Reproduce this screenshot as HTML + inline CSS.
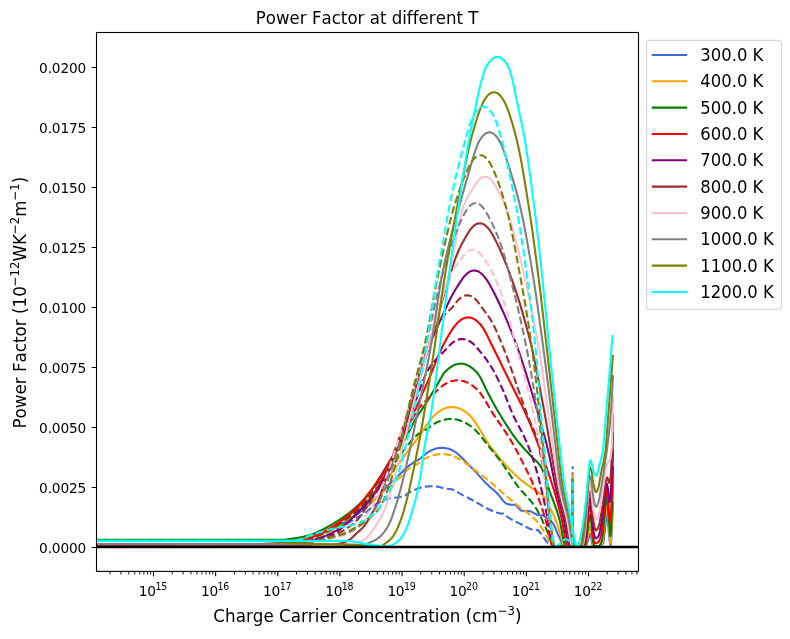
<!DOCTYPE html>
<html><head><meta charset="utf-8"><title>Power Factor at different T</title>
<style>html,body{margin:0;padding:0;background:#fff}svg{display:block}text{font-family:"DejaVu Sans", "Liberation Sans", sans-serif;fill:#000;font-variant-ligatures:none;font-feature-settings:"liga" 0,"clig" 0;font-kerning:none}</style></head><body>
<svg width="790" height="639" viewBox="0 0 790 639">
<rect width="790" height="639" fill="#fff"/>
<defs><clipPath id="ax"><rect x="96.50" y="32.50" width="542.00" height="538.90"/></clipPath></defs>
<g clip-path="url(#ax)" fill="none" stroke-width="2.08" stroke-linejoin="round">
<path d="M96.50 545.50L271.48 545.47L273.70 545.33L276.67 545.00L279.63 544.53L282.59 543.98L292.22 542.07L295.93 541.26L301.11 540.00L306.30 538.58L312.96 536.58L318.89 534.52L325.56 531.91L331.50 529.32L336.75 526.68L342.00 523.76L348.00 520.18L353.25 516.78L358.50 513.10L363.00 509.70L367.50 505.99L372.00 502.00L374.91 499.19L390.50 483.29L395.75 478.06L404.72 469.54L406.96 467.53L409.21 465.66L411.44 463.96L412.93 462.96L418.13 459.80L420.36 458.33L421.85 457.22L425.58 453.98L427.82 452.41L430.06 451.05L431.55 450.30L433.04 449.64L435.28 448.80L436.03 448.59L437.52 448.29L440.51 447.87L442.00 447.80L444.24 447.95L447.23 448.43L447.97 448.58L449.46 449.03L451.70 449.95L453.88 451.07L456.03 452.51L458.17 454.25L460.32 456.21L462.47 458.33L463.90 459.80L465.30 461.50L467.46 463.82L473.94 470.12L476.10 472.30L478.24 474.62L483.95 481.10L486.80 484.10L488.96 486.11L494.72 491.01L496.88 493.06L498.28 494.56L498.95 495.39L502.32 499.74L504.28 501.92L504.92 502.58L505.56 503.13L506.20 503.50L506.92 503.78L509.07 504.40L510.50 504.60L514.80 504.80L515.44 505.03L516.08 505.52L516.72 506.17L518.66 508.18L519.98 509.71L520.64 510.30L521.30 510.60L523.40 510.86L529.17 511.15L529.90 511.20L530.58 511.34L531.27 511.63L534.00 513.20L536.25 514.32L537.75 514.93L539.22 515.19L542.08 515.40L542.80 515.50L543.44 515.71L544.08 516.07L546.00 517.50L549.61 520.02L551.06 521.26L552.50 522.80L553.21 523.80L553.92 525.07L555.35 528.17L558.20 535.00L560.42 539.49L561.16 541.27L561.90 543.50L562.25 545.50L562.60 546.90L576.07 546.79L581.31 546.62L585.80 546.40L586.33 545.60L589.35 535.57L589.80 534.50L590.05 534.16L590.30 534.00L590.65 534.65L591.00 536.00L592.00 543.00L592.75 545.43L593.50 546.50L600.50 546.50L601.12 546.23L601.75 545.49L602.38 544.38L603.00 543.00L603.67 540.07L605.00 530.00L606.20 516.38L606.80 513.00L607.50 516.50L609.65 540.72L610.40 546.00L611.05 541.82L611.70 533.00L612.10 524.90L613.00 503.00" stroke="#4169e1" stroke-linecap="square"/>
<path d="M96.50 546.00L280.00 546.00L282.25 545.93L284.50 545.74L287.50 545.33L290.50 544.82L296.50 543.72L301.00 542.67L306.25 541.18L312.22 539.24L315.93 537.81L320.37 535.91L335.19 529.13L340.37 526.70L345.56 524.14L350.75 521.38L359.00 516.40L364.60 513.25L366.00 512.31L367.40 511.21L371.60 507.52L373.70 505.87L376.62 504.00L379.59 502.23L381.81 501.03L384.04 500.01L386.26 499.21L389.25 498.50L392.25 498.02L399.00 497.17L401.25 496.76L403.50 496.20L404.20 495.95L405.60 495.19L409.10 492.68L410.50 491.82L414.00 490.10L416.80 488.94L421.00 487.59L423.80 486.93L428.00 486.40L430.10 486.24L431.50 486.20L434.30 486.33L438.50 486.82L439.90 487.12L443.40 488.25L444.80 488.60L446.25 488.76L449.25 488.93L450.73 489.10L452.19 489.46L453.66 490.00L455.12 490.67L456.58 491.45L463.17 495.32L469.82 498.73L475.00 501.50L477.87 503.14L484.32 507.00L486.47 508.18L488.64 509.25L493.05 511.23L495.26 512.06L497.27 512.70L499.17 513.19L500.44 513.37L503.00 513.60L503.67 513.83L504.33 514.24L507.00 516.50L509.74 518.34L511.80 519.60L515.55 521.62L523.80 525.60L528.27 527.98L529.76 528.70L531.25 529.28L534.22 530.04L535.70 530.20L537.80 530.00L538.53 530.45L542.90 536.40L546.54 541.59L548.00 543.50L549.25 545.28L549.88 546.01L550.50 546.30L563.16 546.26L572.10 546.10L572.40 516.41L572.70 466.20" stroke="#4169e1" stroke-dasharray="7.71 3.33" stroke-linecap="butt"/>
<path d="M96.50 545.00L270.00 545.00L271.50 544.96L273.75 544.74L276.75 544.22L279.75 543.52L285.75 541.91L288.75 541.16L300.48 538.81L304.14 538.02L307.07 537.31L310.00 536.50L312.22 535.79L314.44 534.97L317.41 533.74L321.11 532.03L330.75 527.11L333.75 525.47L336.75 523.74L342.75 519.99L345.75 517.99L348.75 515.87L351.75 513.63L354.75 511.29L358.50 508.25L362.25 505.09L365.25 502.45L368.25 499.68L372.73 495.25L376.36 491.23L385.00 481.12L388.57 476.78L391.45 473.15L398.73 463.52L408.20 450.60L417.00 439.20L420.00 434.94L427.50 423.67L429.75 420.58L432.00 417.82L434.12 415.60L436.19 413.73L438.94 411.61L441.00 410.25L442.38 409.50L443.75 408.84L445.81 408.00L447.19 407.62L449.94 407.15L452.00 407.00L454.06 407.15L457.50 407.79L459.56 408.53L462.31 409.86L464.38 411.13L467.12 413.16L468.50 414.31L469.88 415.58L471.25 417.00L472.75 418.76L474.25 420.74L475.75 422.91L478.75 427.68L486.25 440.34L488.50 443.85L490.00 446.00L493.57 450.75L497.14 455.22L501.48 460.30L506.64 466.12L510.33 470.08L514.01 473.79L516.96 476.55L519.91 479.08L524.34 482.56L529.50 486.32L536.15 491.01L540.65 493.83L542.15 495.00L542.90 495.70L543.61 496.48L544.32 497.40L545.74 499.60L547.87 503.50L550.70 509.10L552.10 512.04L553.50 515.18L554.90 518.55L556.30 522.13L557.71 526.04L559.14 530.54L562.00 540.00L563.47 545.63L564.20 546.90L575.84 546.80L580.93 546.63L585.30 546.40L585.87 545.25L589.10 530.07L589.60 528.00L589.90 527.01L590.20 526.50L590.60 527.29L591.00 529.00L592.20 541.00L592.80 543.63L593.40 545.56L594.00 546.30L600.00 546.30L600.65 545.88L601.30 544.73L601.95 543.04L602.60 541.00L603.30 536.92L604.70 524.00L606.10 507.82L606.80 504.00L607.47 507.80L608.80 525.00L609.87 540.20L610.40 543.75L611.00 538.60L611.60 528.00L612.05 517.03L613.00 485.00" stroke="#ffa500" stroke-linecap="square"/>
<path d="M96.50 546.00L280.75 545.99L283.75 545.75L286.75 545.26L293.50 543.81L301.00 542.28L307.00 540.84L311.48 539.54L315.93 537.95L320.37 536.10L325.56 533.69L331.50 530.73L336.00 528.27L340.50 525.53L345.00 522.50L346.50 521.39L348.75 519.57L359.63 510.08L361.70 508.40L364.55 506.39L370.97 502.23L372.40 501.20L374.55 499.49L384.58 490.59L386.70 488.89L391.60 485.15L393.71 483.38L396.55 480.75L400.80 476.60L405.12 472.11L406.56 470.71L408.00 469.50L409.42 468.51L410.83 467.63L415.08 465.28L417.20 464.00L422.00 460.51L423.38 459.62L426.12 458.08L428.18 457.07L431.61 455.74L434.35 454.90L435.72 454.62L438.47 454.24L440.53 454.04L441.90 454.00L444.64 454.16L448.07 454.62L449.45 454.90L451.51 455.50L454.94 456.77L456.99 457.72L460.42 459.62L462.48 460.97L478.41 472.58L482.83 475.92L486.52 478.81L490.25 481.88L500.00 490.50L510.33 499.40L516.96 504.99L519.91 507.35L527.29 512.70L530.98 515.58L533.92 518.22L536.14 520.50L538.37 523.19L539.85 525.20L541.33 527.37L543.56 530.87L544.96 533.27L546.29 535.89L549.60 542.80L550.87 545.66L551.50 546.30L563.27 546.26L572.10 546.10L572.40 519.32L572.70 474.00" stroke="#ffa500" stroke-dasharray="7.71 3.33" stroke-linecap="butt"/>
<path d="M96.50 539.90L281.43 539.87L285.71 539.52L292.96 538.61L298.15 537.76L303.33 536.69L307.78 535.61L311.48 534.55L315.19 533.16L318.89 531.47L324.81 528.36L331.50 524.67L334.50 522.92L339.75 519.62L342.75 517.59L345.75 515.46L348.75 513.23L351.75 510.87L354.75 508.37L357.00 506.36L359.25 504.24L361.50 501.96L363.00 500.32L365.25 497.69L369.75 492.00L372.73 488.00L374.18 485.92L377.09 481.53L381.44 474.72L389.39 461.62L392.28 457.08L393.73 454.94L395.20 452.92L401.07 445.30L402.53 443.23L404.00 441.00L406.25 437.09L407.75 434.20L412.25 425.17L413.75 422.34L415.13 419.92L418.99 413.73L424.52 405.53L427.28 401.17L439.72 380.36L441.10 378.00L442.97 374.55L443.60 373.60L445.02 371.90L446.45 370.48L449.30 368.05L451.44 366.52L453.57 365.34L455.00 364.68L455.71 364.42L457.85 363.92L459.27 363.69L460.70 363.60L461.41 363.62L462.84 363.80L464.97 364.23L466.40 364.68L468.54 365.71L470.68 366.99L472.10 368.05L473.52 369.23L475.66 371.19L477.09 372.73L477.80 373.60L479.29 375.75L480.79 378.32L483.03 382.73L486.76 390.59L488.25 393.59L493.31 402.94L496.91 409.39L499.78 414.31L504.20 421.51L507.91 427.33L510.87 431.79L513.84 436.03L516.06 439.04L518.27 441.85L520.47 444.48L524.13 448.61L530.72 455.77L532.16 457.19L535.76 460.50L537.20 461.95L538.64 463.59L539.36 464.51L540.80 466.60L541.50 467.84L542.20 469.32L543.60 472.89L545.00 477.01L547.80 485.85L549.20 490.00L554.86 505.19L556.27 509.17L557.69 513.41L559.10 518.00L559.80 520.73L560.50 524.05L563.30 539.01L564.00 542.15L564.70 544.65L565.40 546.30L566.10 546.90L576.57 546.79L581.06 546.63L584.80 546.40L585.40 544.98L586.00 541.72L587.17 534.07L588.85 520.89L589.40 517.50L589.75 515.85L590.10 515.00L590.55 516.28L591.00 519.00L592.40 537.00L593.10 541.40L593.80 544.70L594.50 546.00L599.00 546.00L599.64 545.65L600.28 544.67L600.92 543.17L601.56 541.24L602.20 539.00L602.93 533.87L605.00 511.41L605.60 504.19L606.20 498.39L606.80 496.00L607.43 499.88L609.83 532.47L610.40 536.00L610.95 530.76L611.50 520.00L611.95 507.79L612.40 492.00L613.00 467.00" stroke="#008000" stroke-linecap="square"/>
<path d="M96.50 546.00L280.75 545.99L282.25 545.88L283.75 545.69L285.25 545.43L287.50 544.93L293.50 543.36L299.50 541.94L304.00 540.79L308.50 539.48L312.22 538.23L317.41 536.16L322.59 533.78L330.00 530.00L334.50 527.46L339.75 524.14L345.75 519.96L351.00 515.95L355.50 512.18L357.75 510.14L360.00 508.00L361.50 506.47L363.75 503.99L366.75 500.44L377.82 486.87L380.00 484.00L382.14 480.95L387.86 472.18L390.73 467.96L402.50 451.83L404.75 448.83L407.00 446.00L411.29 440.80L414.14 437.61L416.29 435.58L418.45 433.95L420.62 432.62L424.25 430.64L426.43 429.37L427.88 428.38L432.28 425.01L435.21 423.21L436.68 422.41L438.14 421.71L441.81 420.29L444.00 419.66L446.94 419.19L449.13 418.95L451.33 418.91L453.53 419.10L456.46 419.52L457.93 419.84L459.39 420.29L462.33 421.40L463.79 422.05L465.99 423.21L468.92 424.99L471.12 426.52L472.58 427.66L474.78 429.56L476.23 431.00L477.68 432.56L479.85 435.09L482.75 438.71L488.55 446.20L496.43 455.83L500.74 461.39L504.43 466.63L513.28 479.92L515.49 483.09L517.70 486.10L519.18 487.97L521.39 490.58L528.02 497.83L530.24 500.37L533.19 504.11L535.40 507.30L537.52 510.81L539.64 514.79L541.76 519.13L544.59 525.36L546.67 530.20L548.02 533.59L551.40 542.80L552.00 544.97L552.60 546.30L563.85 546.26L572.10 546.10L572.40 521.56L572.70 480.00" stroke="#008000" stroke-dasharray="7.71 3.33" stroke-linecap="butt"/>
<path d="M96.50 546.00L270.00 546.00L273.70 545.83L276.67 545.50L280.37 544.90L295.19 541.96L298.89 541.12L302.59 540.19L306.30 539.15L309.26 538.24L311.48 537.49L314.44 536.36L316.67 535.41L319.63 534.04L325.56 530.98L330.00 528.50L332.25 527.16L335.25 525.22L339.00 522.57L342.75 519.75L347.25 516.20L350.25 513.71L353.25 511.08L356.25 508.28L359.25 505.28L360.75 503.70L363.00 501.14L365.25 498.39L368.25 494.51L374.91 485.50L377.82 481.30L380.72 476.88L383.61 472.21L386.50 467.34L398.13 447.06L401.80 440.35L404.75 434.43L407.75 427.59L414.50 411.30L423.97 390.06L430.23 375.61L432.99 369.02L437.14 358.44L438.52 355.08L439.90 352.00L442.08 347.51L445.71 340.46L448.62 335.29L451.52 330.58L452.97 328.43L454.43 326.42L456.60 323.79L458.05 322.31L459.50 320.99L460.22 320.41L461.68 319.44L463.12 318.59L463.85 318.26L465.30 317.84L466.75 317.53L468.20 317.40L468.93 317.44L470.38 317.67L471.82 318.02L472.55 318.26L473.27 318.60L475.45 319.90L476.18 320.41L477.62 321.62L479.80 323.78L481.25 325.46L481.97 326.39L483.42 328.48L484.85 330.92L486.99 335.09L491.28 344.06L498.00 357.54L510.75 383.51L521.25 404.19L523.50 408.87L525.75 413.79L529.46 422.42L533.16 431.40L536.87 440.78L539.83 448.59L543.53 458.77L546.49 467.27L549.46 476.10L552.42 485.28L554.59 492.26L555.97 496.98L558.05 504.51L560.12 512.49L561.50 518.00L562.22 521.30L565.11 537.73L565.83 541.35L566.56 544.26L567.28 546.20L568.00 546.90L576.84 546.80L580.52 546.65L584.20 546.40L584.87 544.91L585.53 541.36L586.20 537.00L586.80 531.48L588.00 518.00L588.60 512.93L589.20 509.00L589.60 507.01L590.00 506.00L590.50 507.25L591.00 510.00L591.53 516.57L592.07 526.11L592.60 533.00L593.20 536.96L593.80 540.27L594.40 542.55L595.00 543.40L595.70 543.33L596.40 543.15L597.10 542.85L598.50 542.00L599.16 541.11L599.82 539.46L600.48 537.18L601.14 534.40L601.80 531.25L602.38 527.13L603.52 515.01L605.45 496.35L606.12 491.12L606.80 489.00L607.37 491.83L608.50 505.00L609.25 515.82L610.00 522.70L610.60 518.73L611.20 510.00L611.70 497.20L613.00 450.00" stroke="#ff0000" stroke-linecap="square"/>
<path d="M96.50 546.00L280.75 545.99L282.25 545.89L283.75 545.70L286.75 545.13L298.00 542.25L301.75 541.20L306.25 539.80L310.74 538.23L314.44 536.75L318.15 535.11L321.11 533.70L324.81 531.81L331.50 528.14L336.00 525.36L341.25 521.76L344.25 519.56L348.00 516.70L351.00 514.28L353.25 512.37L356.25 509.68L358.50 507.51L360.75 505.21L362.25 503.56L364.50 500.89L366.75 498.05L369.75 494.07L373.45 488.96L375.64 485.77L378.55 481.30L381.43 476.70L384.29 471.96L389.29 463.27L392.91 456.65L407.71 428.64L412.71 418.58L414.13 415.83L416.27 412.11L417.70 410.00L419.15 408.11L421.33 405.48L423.51 403.07L425.69 400.84L430.04 396.76L435.85 391.61L439.48 388.31L441.65 386.47L443.82 384.91L445.28 383.98L446.73 383.16L448.18 382.47L449.63 381.83L451.08 381.30L452.53 380.93L454.70 380.55L456.15 380.37L457.60 380.30L459.78 380.45L463.40 381.09L465.57 381.83L468.48 383.16L469.93 383.98L471.38 384.91L473.55 386.46L475.00 387.60L476.45 388.87L477.90 390.30L480.12 392.93L481.60 394.96L483.09 397.16L485.31 400.72L491.24 410.75L493.46 414.36L496.44 418.84L506.13 432.94L509.11 437.57L511.33 441.22L514.25 446.31L517.89 453.05L521.54 460.11L526.65 470.26L529.56 476.25L531.75 480.98L533.94 486.03L535.40 489.60L536.81 493.26L538.93 499.10L541.05 505.37L543.17 512.03L545.29 519.07L546.67 524.01L549.38 535.59L550.73 540.76L551.93 544.34L552.47 545.71L553.00 546.30L564.02 546.26L572.10 546.10L572.40 520.82L572.70 478.00" stroke="#ff0000" stroke-dasharray="7.71 3.33" stroke-linecap="butt"/>
<path d="M96.50 546.00L280.00 546.00L282.25 545.95L284.50 545.81L289.00 545.33L295.00 544.50L297.25 544.14L300.25 543.53L304.75 542.43L310.74 540.79L315.19 539.50L319.63 538.08L323.33 536.76L326.30 535.60L330.00 534.00L332.25 532.90L334.50 531.66L337.50 529.83L339.75 528.33L342.75 526.19L345.75 523.91L347.25 522.67L351.00 519.22L354.00 516.21L365.25 504.65L367.50 502.27L369.75 499.74L372.00 497.00L373.45 495.09L374.91 493.05L377.09 489.78L379.27 486.24L380.72 483.74L383.61 478.33L385.78 473.95L388.67 467.76L394.47 454.60L396.67 449.35L398.87 443.88L401.07 438.14L403.27 432.09L405.50 425.52L407.75 418.28L422.70 367.08L426.42 354.82L428.66 348.10L430.13 344.03L431.59 340.33L434.50 333.40L443.80 312.56L448.00 303.58L451.50 296.59L453.59 292.81L456.38 288.07L459.16 283.63L461.90 279.56L463.84 276.90L465.13 275.41L467.08 273.51L469.02 272.09L470.31 271.36L472.26 270.77L473.55 270.54L474.20 270.50L475.50 270.63L476.79 270.94L478.08 271.36L478.73 271.70L480.68 273.00L481.32 273.51L482.62 274.73L484.56 276.89L486.50 279.53L487.86 281.61L489.29 283.96L492.15 289.07L495.72 296.06L500.73 306.55L504.36 314.58L507.99 323.08L511.62 332.07L515.25 341.56L518.16 349.56L521.08 358.05L524.00 366.95L526.92 376.20L529.84 385.75L534.22 400.47L540.77 422.98L543.66 433.20L545.83 441.30L548.00 450.00L549.38 456.15L554.22 480.36L556.30 490.00L557.74 495.90L562.06 512.22L563.50 518.00L564.21 521.34L567.06 537.79L567.77 541.39L568.48 544.28L569.19 546.20L569.90 546.90L577.83 546.77L580.72 546.63L583.60 546.40L584.33 544.79L585.07 540.92L585.80 536.00L586.43 529.49L587.70 513.00L588.35 506.76L589.00 502.00L589.45 499.60L589.90 498.40L590.45 499.86L591.00 503.00L591.60 509.97L592.20 519.83L592.80 527.00L593.47 531.27L594.15 534.88L594.83 537.37L595.50 538.30L596.25 538.12L597.00 537.64L597.75 536.91L598.50 536.00L599.16 534.46L599.82 531.78L600.48 528.31L601.80 520.30L602.38 516.20L605.45 490.12L606.12 485.48L606.80 483.60L607.55 486.56L608.30 492.00L608.95 498.22L609.60 502.30L610.20 499.76L610.80 494.00L611.40 482.03L612.50 449.99L613.00 433.00" stroke="#800080" stroke-linecap="square"/>
<path d="M96.50 546.00L285.00 546.00L286.50 545.96L289.50 545.65L293.25 544.98L302.14 543.02L311.48 540.66L320.38 538.84L323.35 538.16L326.32 537.36L328.52 536.65L330.68 535.75L333.56 534.25L335.00 533.40L336.43 532.46L337.85 531.39L339.99 529.59L351.42 519.24L357.86 513.12L365.11 505.91L368.75 502.05L370.94 499.51L372.40 497.70L373.78 495.86L375.85 492.84L378.62 488.39L380.71 484.71L382.86 480.57L385.00 476.09L391.45 461.68L398.00 446.00L404.75 430.50L407.00 425.00L408.50 421.06L414.50 404.07L422.75 381.47L425.00 375.92L426.50 372.71L427.25 371.28L428.73 368.84L430.20 366.68L431.67 364.69L433.87 361.98L435.34 360.32L437.54 357.99L444.88 350.60L448.99 345.97L450.31 344.62L451.63 343.45L452.95 342.39L454.27 341.50L456.26 340.39L457.58 339.82L458.24 339.62L460.88 339.09L462.20 339.00L463.52 339.09L466.16 339.62L467.48 340.08L468.80 340.74L470.79 341.92L472.11 342.90L473.43 344.03L474.75 345.26L476.73 347.43L482.46 354.40L484.66 357.24L486.86 360.24L489.06 363.41L490.53 365.65L492.71 369.20L494.14 371.74L496.29 375.86L498.43 380.28L502.00 388.00L503.41 391.21L505.53 396.38L510.47 408.89L513.30 415.50L514.76 418.57L516.22 421.44L522.05 432.34L523.51 435.24L524.97 438.35L526.45 441.75L528.68 447.24L530.92 453.18L532.42 457.41L535.40 466.60L536.88 471.64L538.37 477.07L541.33 488.97L544.30 502.00L545.72 509.07L548.56 525.03L549.98 532.65L550.69 536.10L552.73 545.06L553.40 546.30L563.87 546.26L572.10 546.10L572.40 520.82L572.70 478.00" stroke="#800080" stroke-dasharray="7.71 3.33" stroke-linecap="butt"/>
<path d="M96.50 545.60L301.47 545.60L312.50 545.49L325.00 545.20L329.33 544.97L333.67 544.56L338.75 543.88L341.00 543.35L344.70 542.14L346.80 541.22L348.20 540.49L349.60 539.65L351.00 538.69L351.70 538.10L353.10 536.76L356.60 533.20L360.87 529.60L362.29 528.26L363.72 526.66L365.17 524.76L366.62 522.63L368.78 519.12L373.75 510.38L375.10 507.84L376.45 505.11L377.80 502.10L378.49 500.39L379.87 496.53L382.62 488.05L384.00 484.00L390.00 468.00L394.29 456.25L397.86 446.21L402.14 433.60L406.43 420.34L412.14 402.08L417.86 383.17L422.86 366.36L437.86 315.22L444.45 293.17L450.82 272.42L454.00 262.40L455.27 258.66L456.61 255.28L458.02 252.00L459.43 248.91L461.55 244.59L462.96 241.89L465.08 238.07L467.19 234.46L469.39 230.96L470.13 229.89L471.62 228.03L473.11 226.45L473.85 225.80L475.34 224.69L476.08 224.24L476.82 223.93L478.31 223.50L479.06 223.35L479.80 223.30L480.54 223.35L481.29 223.50L482.78 223.93L483.52 224.24L485.01 225.22L486.49 226.45L487.24 227.20L488.73 228.93L489.47 229.89L490.21 230.94L491.70 233.30L493.94 237.28L496.94 243.14L499.93 249.54L503.67 258.25L507.41 267.61L511.15 277.52L514.13 285.92L517.12 294.84L520.10 304.33L523.09 314.41L526.82 327.91L529.81 339.46L531.30 345.50L532.74 351.67L534.91 361.78L538.51 380.26L545.73 419.50L547.93 432.11L553.07 462.76L556.00 479.15L557.47 486.56L558.91 493.13L560.33 498.86L563.88 512.17L565.30 518.00L566.05 521.74L569.05 540.05L569.80 543.61L570.55 546.01L571.30 546.90L574.96 546.87L578.61 546.74L583.00 546.40L583.58 545.34L584.15 542.69L585.30 535.00L586.00 528.01L587.40 510.00L588.10 502.19L588.80 496.00L589.30 492.93L589.80 491.40L590.40 492.87L591.00 496.00L591.67 502.72L592.33 512.09L593.00 519.00L593.75 523.31L594.50 526.98L595.25 529.54L596.00 530.50L596.62 530.21L597.25 529.42L597.88 528.31L598.50 527.00L599.16 524.92L599.82 521.76L600.48 517.89L601.80 509.40L602.42 504.97L604.28 489.75L604.90 486.00L606.08 480.21L606.66 478.12L607.25 477.30L607.87 478.73L608.48 481.37L609.10 482.80L609.80 481.41L610.50 478.00L611.15 469.33L611.80 455.00L612.40 437.64L613.00 415.00" stroke="#a52a2a" stroke-linecap="square"/>
<path d="M96.50 545.50L290.00 545.50L292.22 545.43L295.93 545.01L298.15 544.64L301.11 544.02L308.52 542.32L319.63 539.92L324.07 538.79L328.52 537.49L330.72 536.75L332.89 535.91L335.06 534.95L337.22 533.88L340.11 532.34L343.00 530.70L345.98 528.91L348.21 527.46L350.44 525.90L352.68 524.18L354.91 522.28L357.09 520.20L358.47 518.63L360.55 515.92L366.23 507.70L369.21 502.95L370.70 500.40L372.16 497.72L378.00 486.00L385.31 472.47L387.50 468.00L388.92 464.85L390.33 461.52L392.46 456.26L396.75 444.99L399.75 436.60L403.50 425.55L405.75 418.69L408.00 411.55L422.25 364.77L424.50 357.66L426.00 353.19L429.71 343.06L432.65 335.33L434.85 329.94L437.06 325.13L438.53 322.36L439.26 321.12L440.74 318.96L442.23 317.08L443.72 315.43L445.21 313.94L450.43 309.21L452.66 306.99L454.15 305.30L456.76 301.72L457.41 300.93L458.72 299.53L460.02 298.31L460.68 297.80L462.63 296.50L463.29 296.17L463.94 295.93L465.24 295.57L466.55 295.34L467.85 295.34L469.16 295.57L470.46 295.93L471.11 296.16L471.77 296.50L473.07 297.34L474.38 298.31L475.68 299.53L476.99 300.93L478.29 302.56L480.98 306.30L486.12 313.10L488.33 316.18L489.80 318.38L491.27 320.74L492.75 323.35L494.25 326.27L496.50 331.11L498.75 336.35L503.24 347.32L505.44 352.99L507.65 358.92L510.59 367.14L521.62 399.22L526.03 411.57L528.25 417.41L529.74 420.95L533.47 429.42L534.96 433.22L535.71 435.31L537.20 440.00L537.91 442.57L539.33 448.51L541.46 459.11L542.88 467.02L544.30 475.40L545.64 484.31L546.99 494.37L552.30 535.70L553.05 542.38L553.80 546.30L564.05 546.26L572.10 546.10L572.40 520.83L572.70 478.00" stroke="#a52a2a" stroke-dasharray="7.71 3.33" stroke-linecap="butt"/>
<path d="M96.50 544.00L300.74 544.00L310.37 544.20L327.41 544.92L334.07 545.13L340.75 545.20L348.25 545.11L352.70 544.94L353.40 544.80L354.80 544.35L356.20 543.72L359.70 541.85L363.96 539.71L365.39 538.81L366.85 537.66L367.60 536.89L369.10 535.11L371.33 532.25L372.80 530.20L378.73 521.15L380.22 518.68L381.71 515.99L383.20 513.00L383.91 511.42L385.33 507.85L386.76 503.88L388.18 499.65L389.60 495.30L391.07 490.54L393.24 482.86L396.11 472.07L414.50 399.78L423.50 365.65L429.43 343.77L434.43 325.66L438.70 310.57L444.30 291.50L447.14 281.24L448.57 275.84L450.00 270.00L450.75 266.67L452.25 259.46L454.50 248.00L457.50 231.57L459.00 224.00L461.25 213.92L462.00 210.91L462.75 208.24L463.50 206.00L465.00 202.32L465.75 200.68L467.25 197.72L469.50 193.86L473.25 187.94L476.04 183.31L476.72 182.32L478.09 180.60L479.45 179.20L480.81 178.09L481.49 177.64L482.17 177.32L483.54 176.90L484.22 176.75L484.90 176.70L485.58 176.75L486.26 176.90L487.62 177.32L488.31 177.64L489.67 178.62L491.03 179.85L491.71 180.60L493.07 182.32L493.76 183.30L495.12 185.51L496.51 187.95L500.05 194.51L501.46 197.38L502.88 200.44L505.00 205.50L506.48 209.43L508.71 215.95L510.94 223.14L513.17 230.91L515.39 239.18L518.36 250.83L521.33 263.00L524.30 275.50L526.51 285.13L530.19 302.35L532.41 313.39L534.62 324.98L536.83 337.11L539.04 349.89L540.53 359.17L542.01 369.00L549.43 420.52L554.51 457.95L555.97 468.23L557.42 477.77L558.87 486.25L559.60 490.00L561.02 496.39L562.44 501.91L565.28 512.25L566.70 518.00L567.45 521.74L570.45 540.05L571.20 543.61L571.95 546.01L572.70 546.90L576.39 546.85L579.35 546.69L582.30 546.40L582.92 545.23L583.55 542.33L584.17 538.36L584.80 534.00L585.38 528.95L585.95 522.36L587.85 498.26L588.60 490.00L589.15 485.74L589.70 483.60L590.35 485.01L591.00 488.00L591.67 493.79L592.33 501.85L593.00 508.00L593.75 512.21L594.50 515.89L595.25 518.51L596.00 519.50L596.58 519.20L597.15 518.41L598.30 516.00L598.97 513.82L599.65 510.65L601.62 499.15L605.30 472.30L605.90 468.29L606.50 465.60L607.10 464.08L607.70 462.96L608.30 462.00L609.57 460.59L610.20 459.50L610.73 457.00L611.27 452.11L611.80 445.00L612.40 426.37L613.00 396.00" stroke="#ffc0cb" stroke-linecap="square"/>
<path d="M96.50 544.00L290.00 544.00L295.19 543.86L301.85 543.38L313.75 542.20L320.50 541.28L324.25 540.64L326.43 540.20L329.29 539.48L335.00 537.80L340.71 536.24L344.27 535.08L346.44 534.16L347.91 533.35L349.38 532.41L351.59 530.77L353.79 528.94L356.75 526.32L358.25 524.85L359.75 523.28L361.25 521.60L363.50 518.90L365.75 516.03L368.00 513.00L370.18 509.86L371.64 507.60L374.55 502.67L376.00 500.00L377.45 497.13L380.36 490.75L382.55 485.57L384.73 480.18L388.36 470.43L393.50 455.55L398.00 441.54L406.25 415.28L411.50 397.95L415.25 385.00L433.25 321.78L436.25 311.58L439.25 302.18L442.14 293.93L444.29 288.08L445.71 284.39L447.14 280.94L449.29 276.35L450.00 275.00L451.44 272.53L452.88 270.32L454.32 268.29L460.08 260.72L463.05 256.32L463.80 255.32L465.30 253.60L466.80 252.20L468.30 251.09L469.05 250.64L469.80 250.32L470.55 250.10L472.05 249.75L472.80 249.70L473.55 249.75L474.30 249.90L475.80 250.32L476.55 250.64L477.30 251.09L478.80 252.20L480.30 253.60L481.80 255.32L482.55 256.30L484.05 258.53L488.30 265.26L490.40 268.82L491.80 271.35L493.90 275.50L495.38 278.73L497.60 284.05L499.82 289.88L502.04 296.14L505.00 305.00L506.48 309.74L508.70 317.46L510.92 325.69L516.85 348.30L524.30 375.87L528.03 390.20L530.27 399.27L532.51 408.81L535.45 422.20L537.64 432.69L539.82 444.30L542.00 457.70L542.75 463.14L543.50 469.32L547.25 503.89L549.40 520.84L550.80 531.00L551.50 535.42L552.80 542.34L553.40 545.11L554.00 546.30L564.14 546.26L572.10 546.10L572.40 520.83L572.70 478.00" stroke="#ffc0cb" stroke-dasharray="7.71 3.33" stroke-linecap="butt"/>
<path d="M96.50 544.05L304.50 544.11L318.00 544.21L335.25 544.45L346.48 544.63L356.83 544.93L362.00 545.00L363.46 544.85L364.19 544.67L365.65 544.19L372.15 541.58L374.29 540.58L376.43 539.35L378.56 537.84L380.70 536.00L382.08 534.60L384.15 532.12L385.54 530.21L386.92 528.07L388.30 525.70L388.99 524.37L390.37 521.27L392.45 515.76L396.63 503.13L398.09 498.29L399.54 493.12L402.24 482.80L406.25 465.78L409.85 449.90L412.71 436.62L418.47 408.29L424.37 379.91L427.32 365.22L430.26 349.60L432.47 336.78L433.93 327.32L439.07 292.72L441.27 279.44L443.45 268.23L445.64 258.18L448.55 245.88L451.48 234.22L453.69 225.99L459.60 205.00L465.90 182.18L472.97 158.08L474.39 153.50L475.81 149.26L477.23 145.48L477.94 143.81L479.32 141.03L480.67 138.87L482.68 136.20L484.02 134.80L485.37 133.69L486.04 133.24L487.38 132.70L488.73 132.35L489.40 132.30L490.07 132.35L490.74 132.50L492.09 132.93L492.76 133.24L493.43 133.69L494.77 134.80L495.45 135.45L496.79 137.03L498.13 138.87L498.81 139.91L500.15 142.30L500.85 143.75L502.26 147.01L504.37 152.65L507.19 161.11L512.12 176.80L514.95 186.39L517.07 194.14L519.19 202.54L520.63 208.65L522.81 218.76L524.27 225.99L526.45 237.48L530.09 258.07L533.71 279.92L535.14 289.16L537.29 303.80L543.00 345.50L545.97 368.25L552.63 421.37L557.75 464.93L559.21 476.16L559.94 481.24L560.67 485.88L561.40 490.00L562.78 496.57L564.16 502.11L566.92 512.29L568.30 518.00L569.02 521.73L571.92 540.04L572.65 543.60L573.38 546.01L574.10 546.90L577.06 546.84L580.02 546.60L581.50 546.40L582.20 545.01L582.90 541.60L583.60 536.99L584.30 532.00L584.92 526.70L585.55 520.01L586.80 505.00L587.93 489.18L588.50 483.00L589.12 478.18L589.75 475.80L590.48 477.15L591.20 480.00L591.90 484.89L592.60 491.63L593.30 497.00L594.65 503.74L595.33 506.09L596.00 507.00L596.73 506.39L597.47 504.89L598.20 503.00L598.90 500.52L599.60 497.05L601.74 484.66L603.22 475.10L606.80 450.57L607.50 445.36L608.80 434.47L610.00 422.66L611.13 408.81L612.20 392.00L613.00 376.20" stroke="#808080" stroke-linecap="square"/>
<path d="M96.50 544.05L290.00 544.10L292.22 544.06L295.19 543.89L298.89 543.53L303.33 542.96L311.45 541.78L315.09 541.13L319.45 540.20L328.16 538.19L337.54 535.82L341.99 534.76L344.96 533.94L347.20 533.15L349.45 532.18L352.45 530.66L355.43 528.97L357.63 527.56L359.83 525.99L362.03 524.26L363.50 523.00L364.98 521.63L367.21 519.35L368.69 517.69L370.92 514.96L372.40 513.00L373.78 511.02L375.16 508.86L377.24 505.30L380.00 500.00L382.18 495.21L385.09 487.92L388.73 477.94L390.18 473.63L392.36 466.81L398.91 445.52L401.82 435.74L404.71 425.35L406.86 416.99L411.86 396.49L414.00 388.00L416.88 377.26L422.62 356.43L426.25 342.51L429.25 329.89L436.75 296.66L439.00 287.16L440.50 281.16L442.00 275.50L444.14 267.84L447.71 255.82L449.86 249.16L451.29 244.99L453.49 238.94L455.74 233.06L457.98 227.48L460.22 222.25L462.46 217.44L463.95 214.49L465.39 211.88L466.76 209.69L468.14 207.83L469.51 206.25L470.89 205.02L472.26 204.04L473.64 203.50L475.01 203.15L475.70 203.10L476.39 203.15L477.07 203.30L478.45 203.72L479.14 204.04L479.82 204.49L481.20 205.60L481.89 206.25L483.26 207.83L484.64 209.69L486.01 211.90L488.18 215.77L490.39 219.97L491.87 222.93L494.83 229.26L497.78 236.25L500.00 242.00L501.49 246.28L502.98 251.01L505.22 258.76L509.70 275.50L513.40 289.85L516.37 301.86L519.33 314.45L522.30 327.74L524.52 338.23L526.75 349.28L529.00 361.16L531.25 373.78L534.25 391.66L536.50 405.78L539.45 425.06L541.62 440.23L543.07 451.53L543.80 457.70L544.49 464.28L545.17 471.74L547.91 503.40L548.60 510.00L549.90 521.23L551.20 531.30L551.85 535.59L553.10 542.37L553.70 545.12L554.30 546.30L564.68 546.26L572.10 546.10L572.40 520.84L572.70 478.00" stroke="#808080" stroke-dasharray="7.71 3.33" stroke-linecap="butt"/>
<path d="M96.50 540.90L258.72 540.99L263.94 541.14L269.15 541.38L286.28 542.41L315.32 543.96L324.26 544.28L343.52 544.57L351.75 544.80L360.75 545.25L363.00 545.49L368.25 546.17L370.50 546.36L379.40 546.40L380.09 546.34L380.78 546.18L381.47 545.93L382.16 545.60L383.55 544.75L388.42 541.11L390.56 539.15L391.98 537.59L393.40 535.80L394.78 533.67L396.16 531.06L397.55 528.07L398.93 524.76L401.00 519.40L402.40 515.36L403.80 510.78L406.60 500.51L408.76 491.77L410.21 485.22L413.76 468.60L417.14 451.98L419.82 437.96L422.48 423.20L425.27 406.73L428.20 388.54L431.87 364.87L435.52 340.65L441.29 299.68L443.46 284.80L444.90 275.50L447.84 257.74L451.52 236.84L455.93 213.16L463.97 171.37L466.16 160.54L468.35 150.37L469.81 144.07L471.27 138.23L472.74 132.81L474.97 124.99L476.46 120.06L477.95 115.41L479.43 111.11L480.92 107.20L482.41 103.74L483.15 102.20L484.49 99.80L485.84 97.83L487.18 96.10L488.52 94.70L489.87 93.59L490.54 93.14L491.21 92.83L492.56 92.40L493.23 92.25L493.90 92.20L494.57 92.25L495.24 92.40L496.59 92.83L497.26 93.14L498.60 94.12L499.95 95.35L500.62 96.10L502.63 98.77L503.98 100.93L504.65 102.20L506.10 105.35L507.56 108.94L509.74 115.09L511.91 122.07L514.09 129.77L516.27 138.10L517.73 144.02L519.17 150.64L521.35 161.82L522.80 169.95L524.98 182.87L530.09 215.17L531.58 225.34L533.82 241.37L538.30 275.50L540.54 293.70L542.77 312.86L555.14 422.01L559.59 462.61L561.07 474.88L561.82 480.44L562.56 485.50L563.30 490.00L564.72 497.25L566.14 503.36L568.28 511.84L569.70 518.00L570.43 521.83L572.60 535.83L573.33 540.13L574.05 543.65L574.77 546.03L575.50 546.90L578.36 546.75L580.50 546.40L581.25 544.72L582.00 540.71L584.20 524.65L584.90 518.41L586.30 504.00L587.63 485.63L588.30 478.00L588.87 473.07L589.43 468.94L590.00 467.20L590.75 468.43L591.50 471.00L592.17 474.77L592.83 479.85L593.50 484.00L594.75 489.48L595.38 491.44L596.00 492.20L596.67 491.72L597.33 490.53L598.00 489.00L598.75 486.28L601.00 473.40L601.73 469.96L603.93 460.47L604.67 456.54L605.40 451.70L606.10 444.87L608.20 415.80L612.90 356.00" stroke="#808000" stroke-linecap="square"/>
<path d="M96.50 540.90L270.75 541.00L277.50 541.10L293.25 541.52L300.00 541.60L303.00 541.56L306.75 541.40L311.25 541.11L315.75 540.73L318.75 540.29L321.75 539.66L324.75 538.90L334.49 536.28L338.22 535.16L341.96 533.91L345.70 532.50L347.93 531.53L350.89 530.02L357.57 526.36L360.53 524.62L363.50 522.70L365.73 521.09L368.69 518.72L373.75 514.31L375.77 512.45L377.12 511.01L378.52 509.24L379.24 508.18L380.68 505.80L382.12 503.10L383.56 500.15L385.00 497.00L386.50 493.34L388.75 486.97L391.00 480.00L392.40 475.44L395.20 465.57L398.75 452.09L401.00 443.04L403.25 433.38L404.67 426.82L408.00 410.00L411.00 397.05L414.75 382.07L416.25 376.46L421.50 357.53L423.00 351.73L424.50 345.50L426.00 338.66L428.25 327.35L435.00 290.59L436.50 282.81L438.00 275.50L443.25 251.03L447.00 234.31L449.25 224.87L450.75 218.92L452.25 213.28L453.75 208.00L455.94 200.86L458.11 194.16L460.27 187.80L461.71 183.78L463.88 178.08L465.32 174.53L467.49 169.61L468.93 166.61L470.32 163.96L471.67 161.78L473.01 159.93L474.35 158.35L475.70 157.12L477.04 156.14L478.38 155.60L479.73 155.25L480.40 155.20L481.07 155.25L481.74 155.40L483.09 155.82L483.76 156.14L485.10 157.12L486.45 158.35L487.12 159.10L488.46 160.82L489.81 162.82L490.48 163.95L492.59 168.14L494.76 173.04L496.93 178.52L499.10 184.53L501.99 193.33L504.88 202.97L507.05 210.91L508.50 216.83L510.68 226.56L512.85 237.10L515.02 248.26L521.54 283.34L525.13 303.75L527.29 316.80L528.73 325.94L530.88 340.44L532.29 350.56L533.67 361.33L535.75 378.75L543.19 444.82L544.50 457.70L545.25 465.96L548.25 502.40L549.63 515.77L550.90 526.58L551.53 531.39L552.17 535.64L552.80 539.20L553.40 542.38L554.00 545.13L554.60 546.30L564.81 546.26L572.10 546.10L572.40 520.84L572.70 478.00" stroke="#808000" stroke-dasharray="7.71 3.33" stroke-linecap="butt"/>
<path d="M96.50 540.90L347.74 540.91L349.22 541.00L351.43 541.26L357.33 542.22L365.37 543.87L372.77 545.05L377.96 545.58L382.39 545.96L385.34 546.13L388.30 546.20L389.02 546.16L390.46 545.86L391.91 545.31L393.35 544.55L395.51 543.12L398.40 540.90L399.09 540.30L400.47 538.77L401.85 536.88L403.24 534.67L404.62 532.19L406.00 529.50L406.71 527.95L407.42 526.19L408.84 522.14L410.27 517.62L413.86 505.59L416.04 497.59L417.50 491.50L418.12 488.62L419.98 478.68L421.30 470.41L423.40 454.59L424.80 445.00L426.30 436.97L429.30 423.02L430.05 419.21L431.51 410.64L432.92 401.06L435.05 385.08L439.29 351.02L448.16 281.11L453.10 244.54L455.90 224.63L458.00 210.20L463.18 175.57L466.17 156.56L467.66 147.69L469.15 139.40L472.85 120.36L475.81 105.54L478.76 91.80L480.24 85.56L481.72 79.87L483.20 74.81L483.93 72.56L485.41 68.64L486.15 67.00L486.85 65.68L488.24 63.55L489.63 61.73L491.03 60.15L491.73 59.50L493.12 58.39L493.82 57.94L494.51 57.62L495.91 57.20L496.60 57.05L497.30 57.00L498.00 57.05L498.69 57.20L500.09 57.62L500.78 57.94L501.48 58.39L502.88 59.50L503.57 60.15L504.97 61.73L506.36 63.55L507.75 65.67L508.45 67.00L509.17 68.69L509.89 70.71L511.34 75.63L512.06 78.45L513.50 84.69L519.28 112.53L522.48 126.86L523.10 130.00L524.57 138.19L526.03 147.16L527.50 156.79L530.43 177.63L534.83 211.22L537.74 235.63L539.92 255.21L542.79 282.11L548.31 338.61L553.38 388.09L556.30 415.50L559.60 445.00L561.62 464.26L562.30 470.00L564.16 483.33L565.40 491.00L566.04 494.58L568.60 507.50L572.63 529.31L575.46 543.40L576.18 545.93L576.90 546.90L577.43 546.43L577.97 545.32L578.50 544.00L579.25 541.83L580.00 539.03L580.75 535.71L582.25 528.00L582.88 524.25L584.14 515.19L585.40 504.70L586.55 493.27L588.77 469.35L589.30 465.00L589.85 461.78L590.40 460.20L591.00 461.14L591.60 463.00L592.13 465.28L592.67 468.09L593.20 470.30L594.60 474.05L595.30 475.31L596.00 475.80L596.75 475.25L597.50 474.00L598.13 471.92L599.40 465.60L601.44 457.79L602.12 454.77L602.80 451.00L603.42 445.99L604.04 439.22L605.90 415.80L609.00 379.90L611.10 352.60L612.50 336.00" stroke="#00ffff" stroke-linecap="square"/>
<path d="M96.50 540.90L288.00 540.90L289.50 540.86L291.75 540.69L294.00 540.40L296.25 540.03L300.00 539.30L301.43 538.94L303.57 538.19L309.29 535.77L314.45 533.94L319.64 532.28L327.09 530.18L331.56 529.07L335.28 528.25L352.38 524.93L355.34 524.19L357.57 523.47L360.53 522.30L363.50 520.90L364.98 520.09L367.21 518.66L370.17 516.44L373.09 514.00L375.16 512.05L377.24 509.87L379.31 507.46L380.72 505.66L382.16 503.65L384.32 500.31L387.92 494.17L394.36 482.56L395.78 479.65L396.49 478.04L397.91 474.38L399.33 469.90L400.75 464.78L407.87 436.77L411.46 421.88L413.65 412.07L415.90 401.45L418.15 390.35L420.40 378.77L424.15 358.39L427.11 341.28L429.23 327.63L434.88 288.85L436.29 279.79L437.69 271.49L443.20 241.60L447.40 216.91L448.80 209.11L451.00 198.17L454.00 184.42L456.25 174.82L458.50 165.77L465.09 140.71L468.01 130.51L469.46 125.90L470.92 121.73L472.37 118.09L473.75 115.23L475.05 113.07L477.00 110.40L478.30 109.00L479.60 107.89L480.25 107.44L481.55 106.90L482.85 106.55L483.50 106.50L484.15 106.55L484.80 106.70L486.10 107.12L486.75 107.44L487.40 107.89L488.70 109.00L489.35 109.65L490.65 111.23L491.95 113.06L493.25 115.20L493.90 116.50L495.37 119.92L496.85 123.84L499.06 130.58L501.27 138.27L503.48 146.79L505.69 156.03L508.63 169.29L511.58 183.38L516.00 205.50L517.45 213.22L519.63 225.96L521.09 235.12L523.27 249.68L525.45 264.99L528.30 285.84L531.10 307.69L532.50 319.48L533.90 332.04L535.30 345.50L536.02 353.17L537.48 370.48L540.38 407.14L541.78 422.82L545.20 457.70L545.93 466.33L548.13 494.56L548.87 503.27L549.60 510.90L551.04 524.02L551.76 529.88L552.48 535.01L553.20 539.20L553.80 542.39L554.40 545.13L555.00 546.30L555.75 546.21L556.50 545.96L557.25 545.58L558.75 544.58L561.00 542.90L561.73 542.28L563.93 539.94L564.67 539.40L565.40 539.20L566.15 539.28L566.90 539.51L567.65 539.87L568.40 540.32L569.90 541.40L570.63 542.45L571.37 543.82L572.10 544.50L572.40 521.37L572.70 478.00" stroke="#00ffff" stroke-dasharray="7.71 3.33" stroke-linecap="butt"/>
<path d="M96.50 547.10L638.50 547.10" stroke="#000" stroke-width="2.5" stroke-linecap="butt"/>
</g>
<g stroke="#000" fill="none">
<path d="M153.50 571.40v4.86M215.64 571.40v4.86M277.79 571.40v4.86M339.93 571.40v4.86M402.07 571.40v4.86M464.22 571.40v4.86M526.36 571.40v4.86M588.50 571.40v4.86" stroke-width="1.05"/>
<path d="M110.06 571.40v3.1M121.01 571.40v3.1M128.77 571.40v3.1M134.79 571.40v3.1M139.71 571.40v3.1M143.87 571.40v3.1M147.48 571.40v3.1M150.66 571.40v3.1M172.21 571.40v3.1M183.15 571.40v3.1M190.91 571.40v3.1M196.94 571.40v3.1M201.86 571.40v3.1M206.02 571.40v3.1M209.62 571.40v3.1M212.80 571.40v3.1M234.35 571.40v3.1M245.29 571.40v3.1M253.06 571.40v3.1M259.08 571.40v3.1M264.00 571.40v3.1M268.16 571.40v3.1M271.76 571.40v3.1M274.94 571.40v3.1M296.49 571.40v3.1M307.44 571.40v3.1M315.20 571.40v3.1M321.22 571.40v3.1M326.14 571.40v3.1M330.30 571.40v3.1M333.91 571.40v3.1M337.09 571.40v3.1M358.64 571.40v3.1M369.58 571.40v3.1M377.34 571.40v3.1M383.37 571.40v3.1M388.29 571.40v3.1M392.45 571.40v3.1M396.05 571.40v3.1M399.23 571.40v3.1M420.78 571.40v3.1M431.72 571.40v3.1M439.49 571.40v3.1M445.51 571.40v3.1M450.43 571.40v3.1M454.59 571.40v3.1M458.19 571.40v3.1M461.37 571.40v3.1M482.92 571.40v3.1M493.86 571.40v3.1M501.63 571.40v3.1M507.65 571.40v3.1M512.57 571.40v3.1M516.73 571.40v3.1M520.34 571.40v3.1M523.51 571.40v3.1M545.06 571.40v3.1M556.01 571.40v3.1M563.77 571.40v3.1M569.79 571.40v3.1M574.71 571.40v3.1M578.87 571.40v3.1M582.48 571.40v3.1M585.66 571.40v3.1M607.21 571.40v3.1M618.15 571.40v3.1M625.91 571.40v3.1M631.94 571.40v3.1M636.86 571.40v3.1" stroke-width="0.9"/>
<path d="M96.50 547.46h-4.86M96.50 487.46h-4.86M96.50 427.46h-4.86M96.50 367.46h-4.86M96.50 307.46h-4.86M96.50 247.46h-4.86M96.50 187.46h-4.86M96.50 127.46h-4.86M96.50 67.46h-4.86" stroke-width="1.05"/>
<rect x="96.50" y="32.50" width="542.00" height="538.90" stroke-width="1.1"/>
</g>
<g font-size="13.89px">
<text transform="translate(86.1 552.56) scale(0.99 1.04)" text-anchor="end" letter-spacing="-0.18">0.0000</text>
<text transform="translate(86.1 492.56) scale(0.99 1.04)" text-anchor="end" letter-spacing="-0.18">0.0025</text>
<text transform="translate(86.1 432.56) scale(0.99 1.04)" text-anchor="end" letter-spacing="-0.18">0.0050</text>
<text transform="translate(86.1 372.56) scale(0.99 1.04)" text-anchor="end" letter-spacing="-0.18">0.0075</text>
<text transform="translate(86.1 312.56) scale(0.99 1.04)" text-anchor="end" letter-spacing="-0.18">0.0100</text>
<text transform="translate(86.1 252.56) scale(0.99 1.04)" text-anchor="end" letter-spacing="-0.18">0.0125</text>
<text transform="translate(86.1 192.56) scale(0.99 1.04)" text-anchor="end" letter-spacing="-0.18">0.0150</text>
<text transform="translate(86.1 132.56) scale(0.99 1.04)" text-anchor="end" letter-spacing="-0.18">0.0175</text>
<text transform="translate(86.1 72.56) scale(0.99 1.04)" text-anchor="end" letter-spacing="-0.18">0.0200</text>
<text transform="translate(152.90 595.8) scale(0.99 1.04)" text-anchor="middle" letter-spacing="-0.25">10<tspan font-size="9.6px" dy="-5.2" dx="-0.4">15</tspan></text>
<text transform="translate(215.04 595.8) scale(0.99 1.04)" text-anchor="middle" letter-spacing="-0.25">10<tspan font-size="9.6px" dy="-5.2" dx="-0.4">16</tspan></text>
<text transform="translate(277.19 595.8) scale(0.99 1.04)" text-anchor="middle" letter-spacing="-0.25">10<tspan font-size="9.6px" dy="-5.2" dx="-0.4">17</tspan></text>
<text transform="translate(339.33 595.8) scale(0.99 1.04)" text-anchor="middle" letter-spacing="-0.25">10<tspan font-size="9.6px" dy="-5.2" dx="-0.4">18</tspan></text>
<text transform="translate(401.47 595.8) scale(0.99 1.04)" text-anchor="middle" letter-spacing="-0.25">10<tspan font-size="9.6px" dy="-5.2" dx="-0.4">19</tspan></text>
<text transform="translate(463.62 595.8) scale(0.99 1.04)" text-anchor="middle" letter-spacing="-0.25">10<tspan font-size="9.6px" dy="-5.2" dx="-0.4">20</tspan></text>
<text transform="translate(525.76 595.8) scale(0.99 1.04)" text-anchor="middle" letter-spacing="-0.25">10<tspan font-size="9.6px" dy="-5.2" dx="-0.4">21</tspan></text>
<text transform="translate(587.90 595.8) scale(0.99 1.04)" text-anchor="middle" letter-spacing="-0.25">10<tspan font-size="9.6px" dy="-5.2" dx="-0.4">22</tspan></text>
</g>
<text transform="translate(367.1 24.2) scale(0.998 1.08)" font-size="16.67px" text-anchor="middle">Power Factor at different T</text>
<text transform="translate(367.4 622.0) scale(1.005 1.08)" font-size="16.67px" text-anchor="middle">Charge Carrier Concentration (cm<tspan font-size="11.67px" dy="-6.3">−3</tspan><tspan dy="6.3">)</tspan></text>
<text transform="translate(26.3 302.6) rotate(-90) scale(1.003 1.08)" font-size="16.67px" text-anchor="middle">Power Factor (10<tspan font-size="11.67px" dy="-6.3">−12</tspan><tspan dy="6.3">WK</tspan><tspan font-size="11.67px" dy="-6.3">−2</tspan><tspan dy="6.3">m</tspan><tspan font-size="11.67px" dy="-6.3">−1</tspan><tspan dy="6.3">)</tspan></text>
<rect x="646.6" y="40.4" width="134.8" height="268.8" rx="3.3" ry="3.3" fill="#fff" fill-opacity="0.8" stroke="#ccc" stroke-opacity="0.8" stroke-width="1.1"/>
<path d="M652.8 55.00h33.3" stroke="#4169e1" stroke-width="2.08" stroke-linecap="square" fill="none"/>
<text transform="translate(700.3 60.90) scale(0.987 1.08)" font-size="16.67px">300.0 K</text>
<path d="M652.8 81.33h33.3" stroke="#ffa500" stroke-width="2.08" stroke-linecap="square" fill="none"/>
<text transform="translate(700.3 87.23) scale(0.987 1.08)" font-size="16.67px">400.0 K</text>
<path d="M652.8 107.66h33.3" stroke="#008000" stroke-width="2.08" stroke-linecap="square" fill="none"/>
<text transform="translate(700.3 113.56) scale(0.987 1.08)" font-size="16.67px">500.0 K</text>
<path d="M652.8 133.99h33.3" stroke="#ff0000" stroke-width="2.08" stroke-linecap="square" fill="none"/>
<text transform="translate(700.3 139.89) scale(0.987 1.08)" font-size="16.67px">600.0 K</text>
<path d="M652.8 160.32h33.3" stroke="#800080" stroke-width="2.08" stroke-linecap="square" fill="none"/>
<text transform="translate(700.3 166.22) scale(0.987 1.08)" font-size="16.67px">700.0 K</text>
<path d="M652.8 186.65h33.3" stroke="#a52a2a" stroke-width="2.08" stroke-linecap="square" fill="none"/>
<text transform="translate(700.3 192.55) scale(0.987 1.08)" font-size="16.67px">800.0 K</text>
<path d="M652.8 212.98h33.3" stroke="#ffc0cb" stroke-width="2.08" stroke-linecap="square" fill="none"/>
<text transform="translate(700.3 218.88) scale(0.987 1.08)" font-size="16.67px">900.0 K</text>
<path d="M652.8 239.31h33.3" stroke="#808080" stroke-width="2.08" stroke-linecap="square" fill="none"/>
<text transform="translate(700.3 245.21) scale(0.987 1.08)" font-size="16.67px">1000.0 K</text>
<path d="M652.8 265.64h33.3" stroke="#808000" stroke-width="2.08" stroke-linecap="square" fill="none"/>
<text transform="translate(700.3 271.54) scale(0.987 1.08)" font-size="16.67px">1100.0 K</text>
<path d="M652.8 291.97h33.3" stroke="#00ffff" stroke-width="2.08" stroke-linecap="square" fill="none"/>
<text transform="translate(700.3 297.87) scale(0.987 1.08)" font-size="16.67px">1200.0 K</text>
</svg></body></html>
